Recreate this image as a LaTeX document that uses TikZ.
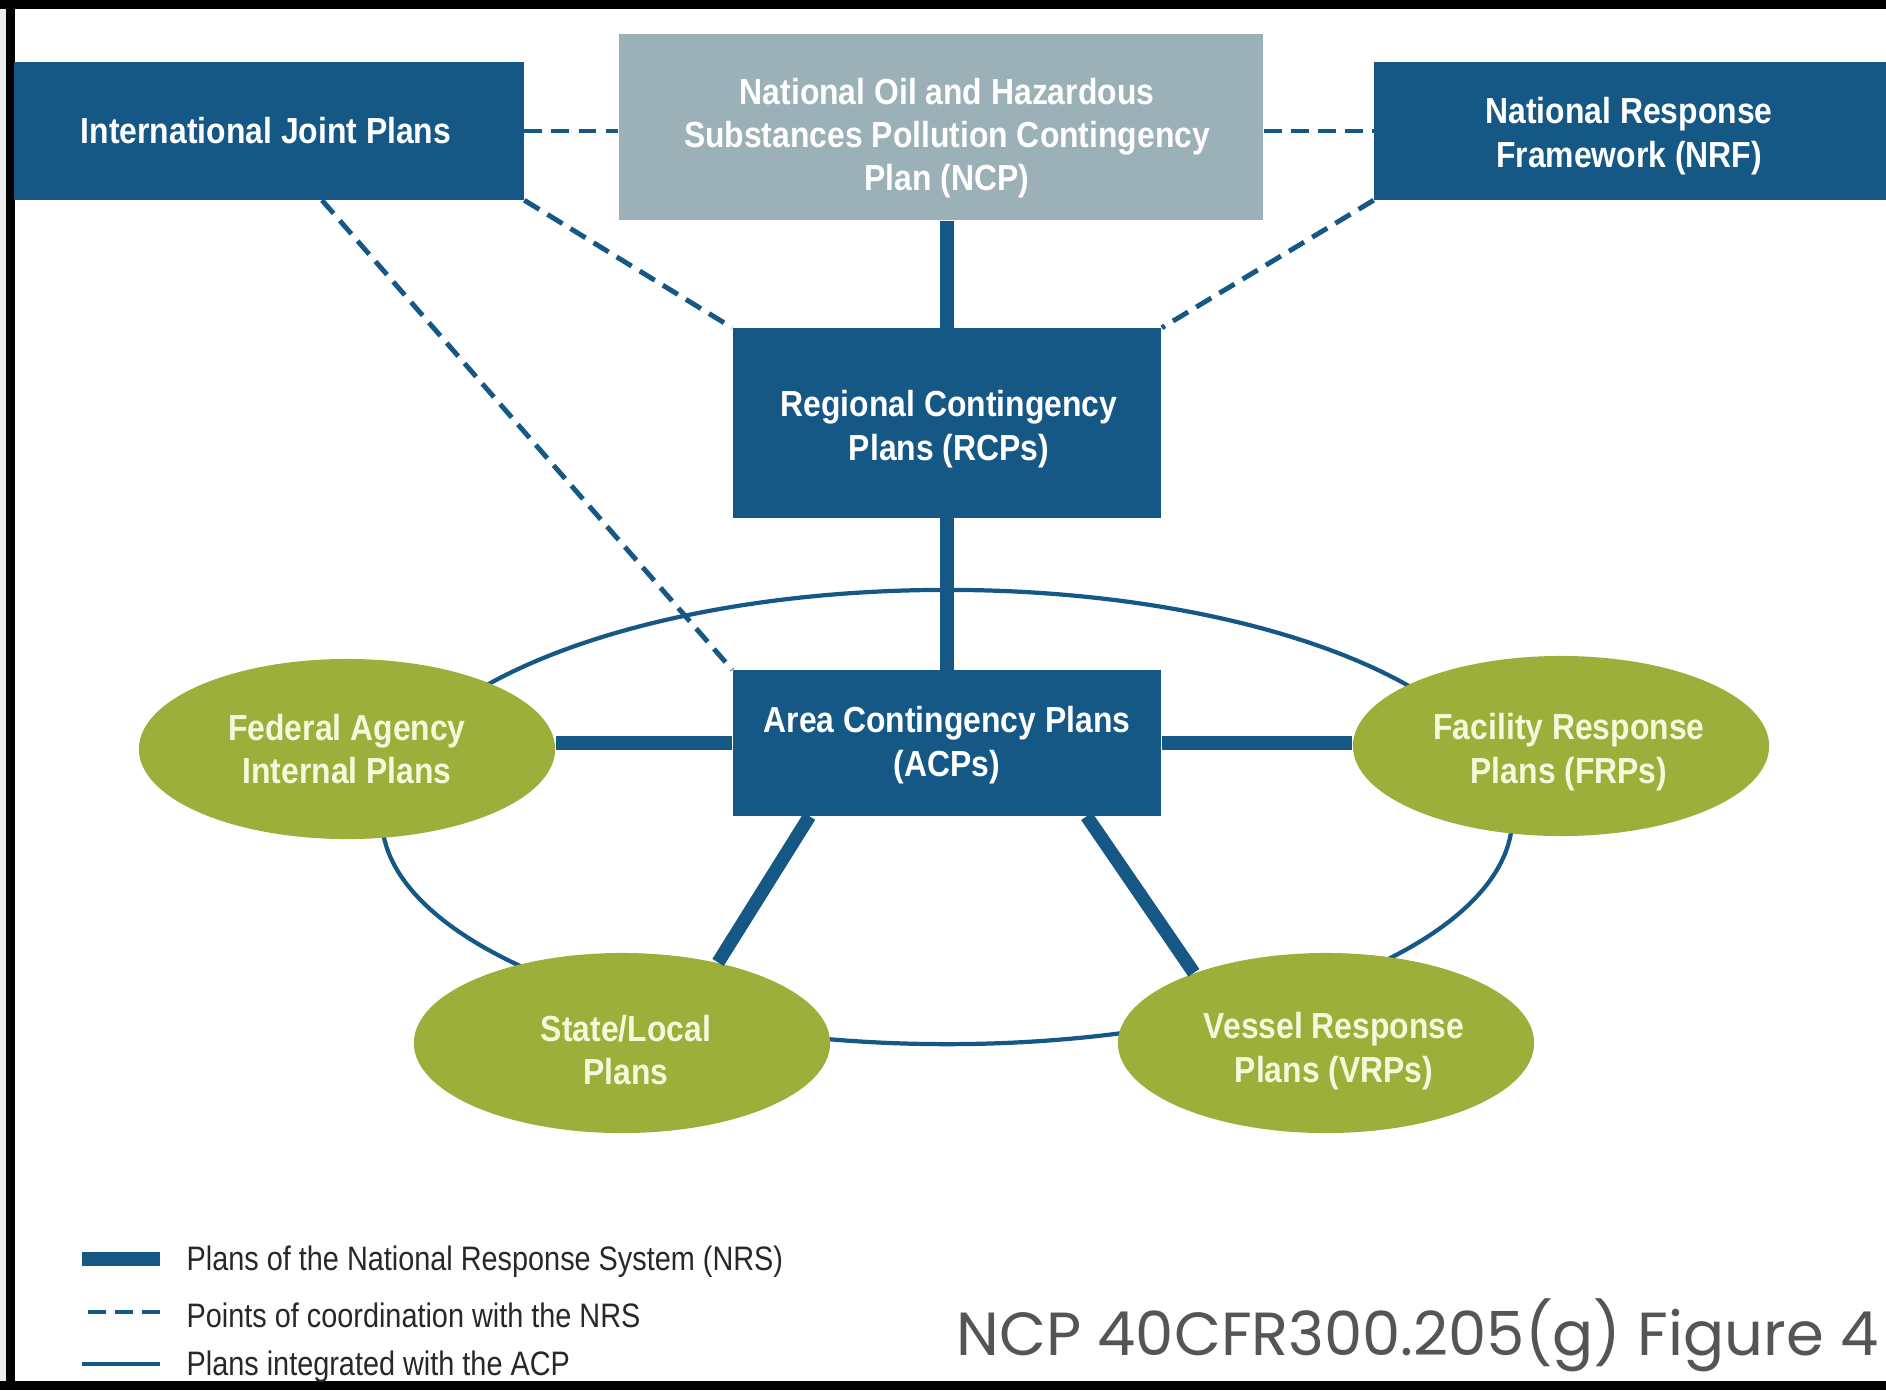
\documentclass[tikz,border=0pt]{standalone}
\usepackage{fontspec}
\setmainfont{Liberation Sans}
\newfontfamily\boxfont{Liberation Sans}[FakeStretch=0.88]
\newfontfamily\legfont{Liberation Sans}[FakeStretch=0.85]
\newfontfamily\capfont{Poppins}
\usetikzlibrary{calc,shapes.geometric}

\definecolor{nrsblue}{RGB}{22,88,133}
\definecolor{ncpgray}{RGB}{155,176,183}
\definecolor{plangreen}{RGB}{155,175,58}
\definecolor{plantext}{RGB}{246,248,220}
\definecolor{capgray}{RGB}{85,85,85}
\definecolor{legtext}{RGB}{40,40,40}

\begin{document}
\begin{tikzpicture}[x=0.01cm,y=-0.01cm,
    bluebox/.style={rectangle,fill=nrsblue,inner sep=0pt},
    graybox/.style={bluebox,fill=ncpgray},
    plan/.style={ellipse,fill=plangreen,inner sep=0pt,
        minimum width=4.16cm,minimum height=1.8cm},
    boxtext/.style={text=white,align=center,inner sep=0pt,
        font=\boxfont\bfseries\fontsize{10.3}{12.3}\selectfont},
    plantext/.style={boxtext,text=plantext},
    nrs/.style={draw=nrsblue,line width=3.8pt},
    coord/.style={draw=nrsblue,line width=1.4pt,dash pattern=on 5pt off 2.7pt},
    integ/.style={draw=nrsblue,line width=1.2pt}]

\useasboundingbox (0,0) rectangle (1886,1390);
\fill[white] (0,0) rectangle (1886,1390);

% Frame on top, left and bottom.
\fill[gray!15] (0,0) rectangle (6,1390);
\fill[black] (0,0) rectangle (1886,9);
\fill[black] (6,0) rectangle (15,1390);
\fill[black] (0,1381) rectangle (1886,1390);

% Ring of plans integrated with the ACP.
\draw[integ] (947,817) ellipse [x radius=5.65cm, y radius=2.27cm];

% Boxes of the national response system.
\node[bluebox,minimum width=5.09cm,minimum height=1.37cm] (ijp) at (269,131) {};
\node[graybox,minimum width=6.44cm,minimum height=1.86cm] (ncp) at (941,127) {};
\node[bluebox,minimum width=5.15cm,minimum height=1.37cm] (nrf) at (1632,131) {};
\node[bluebox,minimum width=4.28cm,minimum height=1.89cm] (rcp) at (947,423) {};
\node[bluebox,minimum width=4.28cm,minimum height=1.45cm] (acp) at (947,743) {};

% Plans round the ACP.
\node[plan] (fed) at (347,749) {};
\node[plan] (frp) at (1561,746) {};
\node[plan] (slp) at (622,1043) {};
\node[plan] (vrp) at (1326,1043) {};

% Texts of boxes and plans.
\node[boxtext] (ijp-t) at ($(ijp)+(-3,0)$) {International Joint Plans};
\node[boxtext] (ncp-t) at ($(ncp)+(6,11)$)
    {National Oil and Hazardous\\Substances Pollution Contingency\\Plan (NCP)};
\node[boxtext] (nrf-t) at ($(nrf)+(-3,5)$) {National Response\\Framework (NRF)};
\node[boxtext] (rcp-t) at ($(rcp)+(2,6)$) {Regional Contingency\\Plans (RCPs)};
\node[boxtext] (acp-t) at ($(acp)+(0,2)$) {Area Contingency Plans\\(ACPs)};
\node[plantext] (fed-t) at (fed) {Federal Agency\\Internal Plans};
\node[plantext] (frp-t) at ($(frp)+(8,6)$) {Facility Response\\Plans (FRPs)};
\node[plantext] (slp-t) at ($(slp)+(4,7)$) {State/Local\\Plans};
\node[plantext] (vrp-t) at ($(vrp)+(8,8)$) {Vessel Response\\Plans (VRPs)};

% Points of coordination.
\coordinate (ijpfoot) at ($(ijp.south)+(53,0)$);
\draw[coord] (ijp.east) -- (ijp.east -| ncp.west);
\draw[coord] (nrf.west -| ncp.east) -- (nrf.west);
\draw[coord] (ijp.south east) -- (rcp.north west);
\draw[coord] (ijpfoot) -- (acp.north west);
\draw[coord] (nrf.south west) -- (rcp.north east);

% Plans of the NRS.
\draw[nrs] (rcp.north) -- (rcp.north |- ncp.south);
\draw[nrs] (rcp.south) -- (acp.north);
\draw[nrs] (acp.west) -- (acp.west -| fed.east);
\draw[nrs] (acp.east) -- (acp.east -| frp.west);
\coordinate (acpl) at ($(acp.south west)!0.18!(acp.south east)$);
\coordinate (acpr) at ($(acp.south west)!0.825!(acp.south east)$);
\draw[nrs] (acpl) -- (slp.40);
\draw[nrs] (acpr) -- (vrp.152);

% Legend.
\foreach \n/\y/\s/\t in {1/1262/nrs/Plans of the National Response System (NRS),
    2/1315/coord/Points of coordination with the NRS,
    3/1367/integ/Plans integrated with the ACP} {
    \node[anchor=west,inner sep=0pt,text=legtext,
        font=\legfont\fontsize{9.65}{11}\selectfont] (leg\n) at (186,\y) {\t};
    \draw[\s] (leg\n.west) ++(-26,-3) -- ++(-78,0);
}

% Source note.
\node[anchor=east,inner sep=0pt,text=capgray,
    font=\capfont\fontsize{17.3}{20}\selectfont] (src) at (1879,1335)
    {NCP 40CFR300.205(g) Figure 4};
\end{tikzpicture}
\end{document}
